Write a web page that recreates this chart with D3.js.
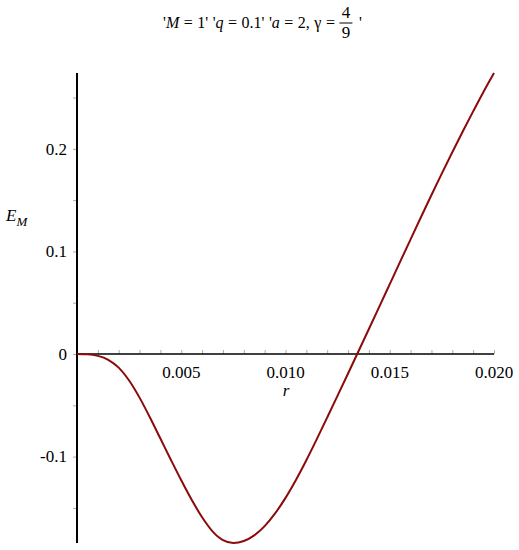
<!DOCTYPE html>
<html><head><meta charset="utf-8">
<script src="https://cdn.jsdelivr.net/npm/d3@7"></script>
<style>body{margin:0;background:#fff}svg{display:block}</style>
</head><body>
<svg id="c" width="519" height="550"></svg>
<script>
// Data
const rValues = [0, 0.0005, 0.0010, 0.0015, 0.0020, 0.0025, 0.0030, 0.0035, 0.0040, 0.0045, 0.0050, 0.0055, 0.0060, 0.0065, 0.0070, 0.0075, 0.0080, 0.0085, 0.0090, 0.0095, 0.0100, 0.0105, 0.0110, 0.0115, 0.0120, 0.0125, 0.0130, 0.0135, 0.0140, 0.0145, 0.0150, 0.0155, 0.0160, 0.0165, 0.0170, 0.0175, 0.0180, 0.0185, 0.0190, 0.0195, 0.0200];
const eValues = [0, -0.0003, -0.0018, -0.0056, -0.0133, -0.0258, -0.0425, -0.0619, -0.0824, -0.1030, -0.1231, -0.1421, -0.1591, -0.1728, -0.1814, -0.1842, -0.1823, -0.1768, -0.1678, -0.1554, -0.1402, -0.1227, -0.1035, -0.0830, -0.0619, -0.0405, -0.0190, 0.0027, 0.0244, 0.0462, 0.0681, 0.0900, 0.1118, 0.1335, 0.1550, 0.1761, 0.1967, 0.2169, 0.2365, 0.2557, 0.2739];
const xMajorTicks = [0.005, 0.010, 0.015, 0.020];
const xTickLabels = ["0.005", "0.010", "0.015", "0.020"];
const xMinorTicks = d3.range(1, 21).map(i => i / 1000);
const yMajorTicks = [-0.1, 0, 0.1, 0.2];
const yTickLabels = ["-0.1", "0", "0.1", "0.2"];
const yMinorTicks = [-0.15, -0.05, 0.05, 0.15, 0.25];

const FONT = '"Liberation Serif", "Times New Roman", Times, "DejaVu Serif", serif';
const svg = d3.select("#c").attr("font-family", FONT);
const x = d3.scaleLinear().domain([0, 0.020]).range([77, 494]);
const y = d3.scaleLinear().domain([-0.1842, 0.2739]).range([543, 73]);

// x axis: ticks pointing up
const xAxisG = svg.append("g").attr("transform", `translate(0,${y(0)})`);
xAxisG.call(d3.axisTop(x).tickValues(xMinorTicks).tickSize(4).tickFormat(""))
  .call(g => g.select(".domain").remove())
  .call(g => g.selectAll("line").attr("stroke", "#aaa"));
xAxisG.selectAll("text.lbl").data(xMajorTicks).join("text")
  .attr("class", "lbl").attr("x", d => x(d)).attr("y", 24)
  .attr("text-anchor", "middle").attr("font-size", 17).attr("fill", "#000")
  .attr("font-family", FONT)
  .text((d, i) => xTickLabels[i]);
xAxisG.append("line").attr("x1", x(0)).attr("x2", x(0.020)).attr("stroke", "#000").attr("stroke-width", 1.5);

// y axis: ticks pointing left
const yAxisG = svg.append("g").attr("transform", `translate(${x(0)},0)`);
yAxisG.call(d3.axisLeft(y).tickValues(yMajorTicks.concat(yMinorTicks)).tickSize(4).tickFormat(""))
  .call(g => g.select(".domain").remove())
  .call(g => g.selectAll("line").attr("stroke", "#aaa"));
yAxisG.selectAll("text.lbl").data(yMajorTicks).join("text")
  .attr("class", "lbl").attr("x", -10).attr("y", d => y(d)).attr("dy", "0.34em")
  .attr("text-anchor", "end").attr("font-size", 17).attr("fill", "#000")
  .attr("font-family", FONT)
  .text((d, i) => yTickLabels[i]);
yAxisG.append("line").attr("y1", y(0.2739)).attr("y2", y(-0.1842)).attr("stroke", "#000").attr("stroke-width", 2);

// curve
const pts = rValues.map((r, i) => [r, eValues[i]]);
svg.append("path").datum(pts)
  .attr("fill", "none").attr("stroke", "#8b0a0a").attr("stroke-width", 2)
  .attr("d", d3.line().x(d => x(d[0])).y(d => y(d[1])).curve(d3.curveMonotoneX));

// axis labels
svg.append("text").attr("x", 286).attr("y", 396).attr("text-anchor", "middle")
  .attr("font-size", 17).attr("font-style", "italic").text("r");
const ey = svg.append("text").attr("x", 6).attr("y", 221).attr("font-size", 17).attr("font-style", "italic");
ey.append("tspan").text("E");
ey.append("tspan").attr("font-size", 13).attr("dy", 5).text("M");

// title
const t = svg.append("text").attr("x", 163).attr("y", 28).attr("font-size", 16).attr("word-spacing", 0.5);
t.append("tspan").text("'");
t.append("tspan").attr("font-style", "italic").text("M");
t.append("tspan").text(" = 1' '");
t.append("tspan").attr("font-style", "italic").text("q");
t.append("tspan").text(" = 0.1' '");
t.append("tspan").attr("font-style", "italic").text("a");
t.append("tspan").text(" = 2, γ = ");
const tEnd = t.node().getComputedTextLength() + 163;
const fx = tEnd + 11;
svg.append("text").attr("x", fx).attr("y", 18).attr("text-anchor", "middle").attr("font-size", 17).text("4");
svg.append("text").attr("x", fx).attr("y", 38).attr("text-anchor", "middle").attr("font-size", 17).text("9");
svg.append("line").attr("x1", fx - 6.5).attr("x2", fx + 6.5).attr("y1", 23).attr("y2", 23).attr("stroke", "#000").attr("stroke-width", 1);
svg.append("text").attr("x", fx + 13).attr("y", 28).attr("font-size", 16).text("'");
</script>
</body></html>
